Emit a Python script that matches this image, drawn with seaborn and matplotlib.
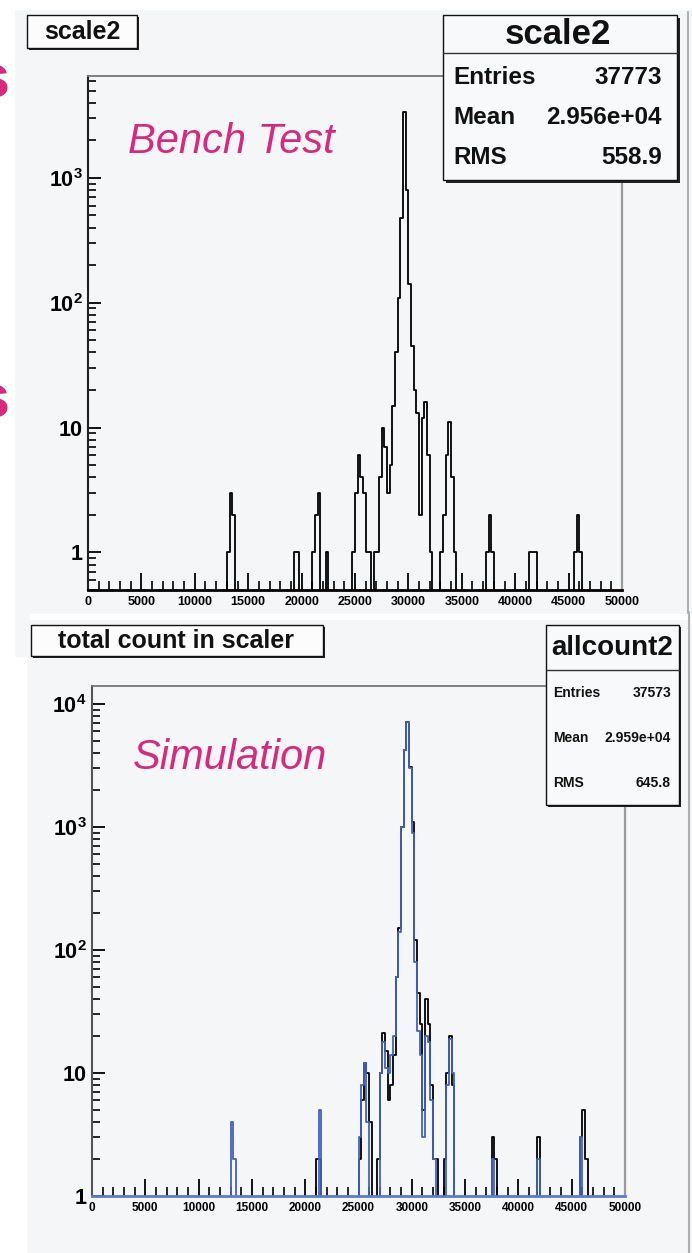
import numpy as np
import pandas as pd
import matplotlib
matplotlib.use("Agg")
import matplotlib.pyplot as plt
from matplotlib.patches import Rectangle
from matplotlib.lines import Line2D
from matplotlib.ticker import (FixedLocator, FixedFormatter, MultipleLocator,
                               NullFormatter, LogLocator, FuncFormatter)
import seaborn as sns

sns.set_style("ticks")
plt.rcParams["font.family"] = ["Liberation Sans", "DejaVu Sans"]
plt.rcParams["font.weight"] = "bold"
plt.rcParams["mathtext.fontset"] = "custom"
plt.rcParams["mathtext.rm"] = "Liberation Sans"
plt.rcParams["mathtext.bf"] = "Liberation Sans:bold"
plt.rcParams["mathtext.default"] = "bf"

# ---------------- data (bin left edges, bin width 250) ----------------
BIN_W = 250
bench_bins = [13000, 13250, 13500, 19250, 19500, 21000, 21250, 21500, 22250,
              24750, 25000, 25250, 25500, 25750, 26000, 26250, 26750, 27000,
              27250, 27500, 27750, 28000, 28250, 28500, 28750, 29000, 29250,
              29500, 29750, 30000, 30250, 30500, 30750, 31000, 31250, 31500,
              31750, 32000, 33000, 33250, 33500, 33750, 34000, 34250, 37250,
              37500, 37750, 41250, 41500, 41750, 45500, 45750, 46000]
bench_counts = [1, 3, 2, 1, 1, 1, 2, 3, 1,
                1, 3, 6, 4, 3, 1, 1, 1, 1,
                4, 10, 7, 3, 5, 15, 40, 110, 480,
                3400, 800, 140, 45, 20, 13, 2, 12, 16,
                6, 1, 1, 2, 6, 11, 4, 1, 1,
                2, 1, 1, 1, 1, 1, 2, 1]

sim_black_bins = [21000, 21250, 25000, 25250, 25500, 25750, 26000, 26750,
                  27000, 27250, 27500, 27750, 28000, 28250, 28500, 28750,
                  29000, 29250, 29500, 29750, 30000, 30250, 30500, 30750,
                  31000, 31250, 31500, 31750, 32000, 32250, 33000, 33250,
                  33500, 33750, 37500, 37750, 41750, 45750, 46000, 46250]
sim_black_counts = [2, 2, 2, 6, 12, 10, 4, 2,
                    10, 21, 15, 6, 8, 14, 60, 150,
                    1000, 4200, 7200, 3100, 1100, 120, 45, 25,
                    5, 40, 25, 8, 2, 2, 2, 10,
                    20, 8, 3, 2, 3, 3, 5, 2]

sim_blue_bins = [13000, 13250, 21250, 25000, 25250, 25500, 25750, 27000,
                 27250, 27500, 27750, 28000, 28250, 28500, 28750, 29000,
                 29250, 29500, 29750, 30000, 30250, 30500, 30750, 31000,
                 31250, 31500, 31750, 32000, 33250, 33500, 33750, 37500,
                 41750, 45750]
sim_blue_counts = [4, 2, 5, 3, 8, 12, 4, 10,
                   18, 11, 10, 14, 20, 60, 140, 1000,
                   4200, 7200, 3000, 900, 80, 22, 14, 3,
                   20, 18, 6, 2, 8, 19, 10, 2,
                   2, 3]

bench_stats = [("Entries", "37773"), ("Mean", "2.956e+04"), ("RMS", "558.9")]
sim_stats = [("Entries", "37573"), ("Mean", "2.959e+04"), ("RMS", "645.8")]

top_ytick_vals = [1, 10, 100, 1000]
top_ytick_labels = ["1", "10", "$10^{2}$", "$10^{3}$"]
bot_ytick_vals = [1, 10, 100, 1000, 10000]
bot_ytick_labels = ["1", "10", "$10^{2}$", "$10^{3}$", "$10^{4}$"]

PINK = "#d82a7c"
BLUE = "#4262bd"
PAD = "#f5f6f7"

# ---------------- figure helpers ----------------
W, H = 692, 1253
fig = plt.figure(figsize=(W / 100, H / 100), dpi=100, facecolor="white")


def fx(x):
    return x / W


def fy(y):
    return 1 - y / H


def rect_px(x0, y0, x1, y1, **kw):
    r = Rectangle((fx(x0), fy(y1)), fx(x1) - fx(x0), fy(y0) - fy(y1),
                  transform=fig.transFigure, **kw)
    fig.add_artist(r)
    return r


def line_px(xs, ys, **kw):
    fig.add_artist(Line2D([fx(v) for v in xs], [fy(v) for v in ys],
                          transform=fig.transFigure, **kw))


def shadow_box(x0, y0, x1, y1, fill, off=3, z=5):
    rect_px(x0 + off, y0 + off, x1 + off, y1 + off, facecolor="#222222",
            edgecolor="none", zorder=z)
    rect_px(x0, y0, x1, y1, facecolor=fill, edgecolor="#111111",
            linewidth=1.0, zorder=z + 0.1)


# pads
rect_px(15, 10, 692, 614, facecolor=PAD, edgecolor="none", zorder=-10)
rect_px(15, 612, 30, 657, facecolor=PAD, edgecolor="none", zorder=-10)
rect_px(27, 620, 692, 1253, facecolor=PAD, edgecolor="none", zorder=-10)
line_px([688, 688], [12, 613], color="#b0b0b0", linewidth=1.5, zorder=-5)
line_px([689, 689], [612, 1253], color="#b0b0b0", linewidth=1.5, zorder=-5)


def hist_frame(bins, counts):
    return pd.DataFrame({"value": np.asarray(bins, dtype=float) + BIN_W / 2,
                         "count": np.asarray(counts, dtype=float)})


def draw_hist(ax, bins, counts, color):
    sns.histplot(data=hist_frame(bins, counts), x="value", weights="count",
                 binwidth=BIN_W, binrange=(0, 50000), element="step",
                 fill=False, color=color, linewidth=1.3, ax=ax)


def style_axes(ax, ylim, yvals, ylabels, bottom_color, left_color, xlabsize):
    ax.set_facecolor("none")
    ax.set_xlim(0, 50000)
    ax.set_ylim(*ylim)
    ax.set_xlabel("")
    ax.set_ylabel("")
    ax.xaxis.set_major_locator(MultipleLocator(5000))
    ax.xaxis.set_minor_locator(MultipleLocator(1000))
    ax.xaxis.set_major_formatter(FuncFormatter(lambda v, p: f"{int(round(v))}"))
    ax.yaxis.set_major_locator(FixedLocator(yvals))
    ax.yaxis.set_major_formatter(FixedFormatter(ylabels))
    ax.yaxis.set_minor_locator(LogLocator(base=10, subs=np.arange(2, 10), numticks=60))
    ax.yaxis.set_minor_formatter(NullFormatter())
    ax.tick_params(axis="x", which="major", direction="in", length=12, width=1.3,
                   colors="black", labelsize=xlabsize, pad=4, top=False)
    ax.tick_params(axis="x", which="minor", direction="in", length=6.5, width=1.2,
                   colors="black", top=False)
    ax.tick_params(axis="y", which="major", direction="in", length=9.5, width=1.3,
                   colors="black", labelsize=15.5, pad=4, right=False)
    ax.tick_params(axis="y", which="minor", direction="in", length=5.5, width=1.2,
                   colors="black", right=False)
    ax.spines["left"].set_color(left_color)
    ax.spines["left"].set_linewidth(1.5)
    ax.spines["bottom"].set_color(bottom_color)
    ax.spines["bottom"].set_linewidth(2.0)
    ax.spines["top"].set_color("#777777")
    ax.spines["top"].set_linewidth(1.3)
    ax.spines["right"].set_color("#9a9a9a")
    ax.spines["right"].set_linewidth(1.6)
    for s in ax.spines.values():
        s.set_visible(True)


# ---------------- top panel: bench test ----------------
ax1 = fig.add_axes([fx(88), fy(590), fx(622) - fx(88), fy(76) - fy(590)])
ax1.set_yscale("log")
draw_hist(ax1, bench_bins, bench_counts, "black")
style_axes(ax1, (0.5, 6550), top_ytick_vals, top_ytick_labels, "black", "#222222", 9)

# ---------------- bottom panel: simulation ----------------
ax2 = fig.add_axes([fx(92), fy(1196), fx(625) - fx(92), fy(686) - fy(1196)])
ax2.set_yscale("log")
draw_hist(ax2, sim_black_bins, sim_black_counts, "black")
draw_hist(ax2, sim_blue_bins, sim_blue_counts, BLUE)
style_axes(ax2, (1, 14000), bot_ytick_vals, bot_ytick_labels, "#5a7bd0", "#555555", 8.5)

# ---------------- title boxes ----------------
shadow_box(27, 15, 137, 48, "#fcfcfc", off=2)
fig.text(fx(82), fy(32), "scale2", ha="center", va="center", fontsize=18,
         weight="bold", color="#111111", zorder=6)
shadow_box(31, 625, 323, 656, "#fcfcfc", off=2)
fig.text(fx(176), fy(641), "total count in scaler", ha="center", va="center",
         fontsize=18, weight="bold", color="#111111", zorder=6)

# ---------------- stats boxes ----------------
shadow_box(443, 15, 677, 180, "#f8f9fa", off=3)
line_px([443, 677], [53, 53], color="#333333", linewidth=1.0, zorder=6)
fig.text(fx(558), fy(34), "scale2", ha="center", va="center", fontsize=25,
         weight="bold", color="#111111", zorder=6)
for (lab, val), yy in zip(bench_stats, [77, 118, 158]):
    fig.text(fx(453), fy(yy), lab, ha="left", va="center", fontsize=17.5,
             weight="bold", color="#111111", zorder=6)
    fig.text(fx(662), fy(yy), val, ha="right", va="center", fontsize=17.5,
             weight="bold", color="#111111", zorder=6)

shadow_box(546, 625, 679, 805, "#f8f9fa", off=2)
line_px([546, 679], [670, 670], color="#333333", linewidth=1.0, zorder=6)
fig.text(fx(612), fy(648), "allcount2", ha="center", va="center", fontsize=20,
         weight="bold", color="#111111", zorder=6)
for (lab, val), yy in zip(sim_stats, [693, 738, 783]):
    fig.text(fx(553), fy(yy), lab, ha="left", va="center", fontsize=10,
             weight="bold", color="#111111", zorder=6)
    fig.text(fx(671), fy(yy), val, ha="right", va="center", fontsize=10,
             weight="bold", color="#111111", zorder=6)

# ---------------- annotations ----------------
fig.text(fx(128), fy(153), "Bench Test", ha="left", va="baseline", fontsize=30,
         style="italic", weight="normal", color=PINK, zorder=6)
fig.text(fx(133), fy(769), "Simulation", ha="left", va="baseline", fontsize=30,
         style="italic", weight="normal", color=PINK, zorder=6)
fig.text(fx(10), fy(97), "s", ha="right", va="baseline", fontsize=44,
         weight="bold", color=PINK, zorder=6)
fig.text(fx(10), fy(417), "s", ha="right", va="baseline", fontsize=44,
         weight="bold", color=PINK, zorder=6)

fig.savefig("out.png", dpi=100, facecolor="white")
